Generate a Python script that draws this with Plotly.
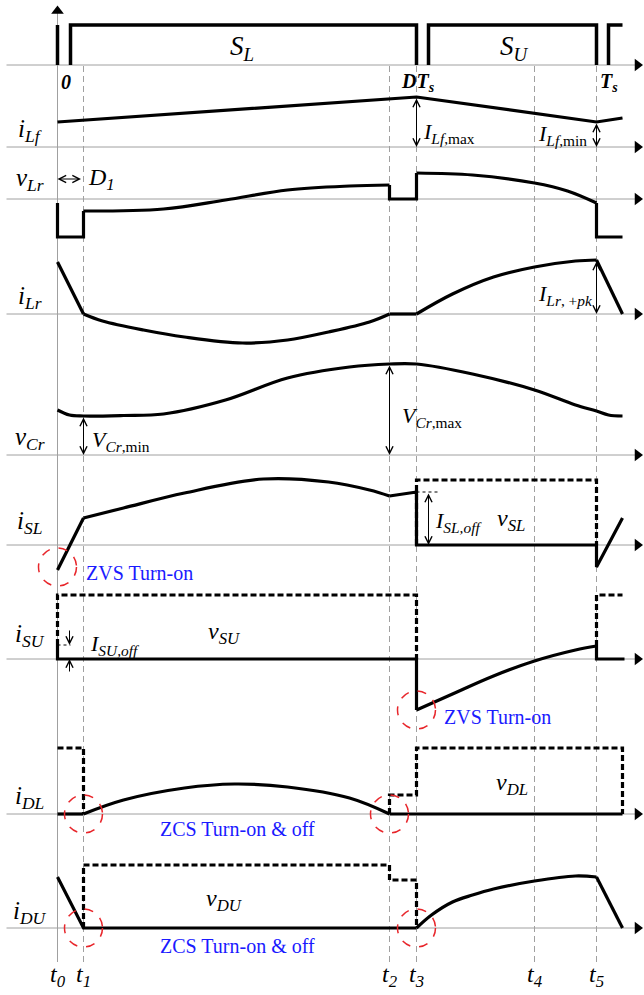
import plotly.graph_objects as go

FONT = "Liberation Serif"

# switching instants t0..t5 (diagram time units, t0 = 0)
t_inst = [0, 26, 332, 359, 477, 539]
t_names = ["<i>t</i><sub><i>0</i></sub>", "<i>t</i><sub><i>1</i></sub>", "<i>t</i><sub><i>2</i></sub>",
           "<i>t</i><sub><i>3</i></sub>", "<i>t</i><sub><i>4</i></sub>", "<i>t</i><sub><i>5</i></sub>"]
t_end = 565
t_left = -51
t_arrow = 580

# baseline of each row (diagram units, bottom = 0)
row_names = ["", "<i>i</i><sub><i>Lf</i></sub>", "<i>v</i><sub><i>Lr</i></sub>", "<i>i</i><sub><i>Lr</i></sub>",
             "<i>v</i><sub><i>Cr</i></sub>", "<i>i</i><sub><i>SL</i></sub>", "<i>i</i><sub><i>SU</i></sub>",
             "<i>i</i><sub><i>DL</i></sub>", "<i>i</i><sub><i>DU</i></sub>"]
row_base = [930, 848, 796, 681, 540, 450, 336, 181, 67]
row_label_dy = [0, 17, 20, 17, 17, 23, 24, 17, 16]

# gate signals S_L / S_U
gate_t = [0, 0, None, 13, 13, 359, 359, None, 371, 371, 539, 539, None, 551, 551, 565]
gate_v = [40, 0, None, 0, 40, 40, 0, None, 0, 40, 40, 0, None, 0, 40, 40]

# filter inductor current
ilf_t = [0, 359, 539, 565]
ilf_v = [25, 50, 25, 29]

# resonant inductor voltage
vlr_a_t = [0, 0, 26, 26]
vlr_a_v = [-4, -38, -38, -12]
vlr_b_t = [26, 106, 168, 230, 292, 332]
vlr_b_v = [-12, -10, -1, 9, 13, 14]
vlr_c_t = [332, 332, 359, 359]
vlr_c_v = [14, 0, 0, 26]
vlr_d_t = [359, 415, 477, 510, 539]
vlr_d_v = [26, 24, 16, 8, -4]
vlr_e_t = [539, 539, 565]
vlr_e_v = [-4, -38, -38]

# resonant inductor current
ilr_a_t = [0, 26]
ilr_a_v = [52, 0]
ilr_b_t = [26, 45, 86, 127, 185, 230, 271, 312, 332]
ilr_b_v = [0, -7, -16, -23, -29, -26, -18, -8, 0]
ilr_c_t = [332, 359]
ilr_c_v = [0, 0]
ilr_d_t = [359, 395, 436, 477, 518, 539]
ilr_d_v = [0, 20, 37, 47, 53, 54]
ilr_e_t = [539, 565]
ilr_e_v = [54, 0]

# resonant capacitor voltage
vcr_t = [0, 12, 26, 66, 106, 168, 230, 292, 332, 359, 415, 477, 518, 539, 551, 565]
vcr_v = [45, 40, 39, 39.5, 41, 55, 77, 88, 91, 91, 81, 65, 50, 44, 40, 39]

# lower switch current / voltage
isl_a_t = [0, 26]
isl_a_v = [-25, 27]
isl_b_t = [26, 66, 127, 206, 271, 312, 332]
isl_b_v = [27, 37, 52, 66, 63, 55, 49]
isl_c_t = [332, 359, 359, 539, 539, 565]
isl_c_v = [49, 53, 0, 0, -22, 27]
vsl_t = [359, 359, 539, 539]
vsl_v = [0, 65, 65, 0]

# upper switch current / voltage
isu_a_t = [0, 0, 359, 359]
isu_a_v = [14, 0, 0, -51]
isu_b_t = [359, 395, 436, 477, 518, 539]
isu_b_v = [-51, -35, -17, -2, 9, 13]
isu_c_t = [539, 539, 567]
isu_c_v = [13, 0, 0]
vsu_t = [0, 0, 359, 359, None, 539, 539, 565]
vsu_v = [14, 64, 64, 0, None, 13, 64, 64]

# lower diode current / voltage
idl_a_t = [0, 26]
idl_a_v = [0, 0]
idl_b_t = [26, 66, 127, 177, 230, 292, 332]
idl_b_v = [0, 14, 26, 30, 27, 16, 0]
idl_c_t = [332, 565]
idl_c_v = [0, 0]
vdl_t = [0, 26, 26, None, 332, 332, 359, 359, 565, 565]
vdl_v = [66, 66, 0, None, 0, 19, 19, 66, 66, 0]

# upper diode current / voltage
idu_a_t = [0, 26, 359]
idu_a_v = [51, 0, 0]
idu_b_t = [359, 374, 395, 415, 436, 477, 518, 539]
idu_b_v = [0, 13, 26, 33, 39, 47, 52, 51]
idu_c_t = [539, 565]
idu_c_v = [51, 0]
vdu_t = [26, 26, 332, 332, 359, 359]
vdu_v = [0, 63, 63, 48, 48, 0]

fig = go.Figure()
GRAY = "#a0a0a0"
BLUE = "#1a1aff"
RED = "#e8262b"


def wave(t, v, row, dash=None, width=3.2, shape="linear", color="black"):
    b = row_base[row]
    y = [None if a is None else b + a for a in v]
    fig.add_trace(go.Scatter(x=t, y=y, mode="lines", hoverinfo="skip",
                             line=dict(color=color, width=width, dash=dash, shape=shape)))


def text(x, y, s, size=24, anchor="center", color="black"):
    fig.add_annotation(x=x, y=y, text=s, showarrow=False, xanchor=anchor,
                       font=dict(family=FONT, size=size, color=color))


def arrow(x, y, ax, ay, both=True):
    fig.add_annotation(x=x, y=y, ax=ax, ay=ay, axref="x", ayref="y", text="",
                       showarrow=True, arrowhead=5, arrowsize=1.4, arrowwidth=1,
                       arrowside="end+start" if both else "end", arrowcolor="black")


def circle(x, y, r=19):
    fig.add_shape(type="circle", x0=x - r, x1=x + r, y0=y - r, y1=y + r,
                  line=dict(color=RED, width=1.5, dash="dash"))


# time axes of each row
for b in row_base:
    fig.add_trace(go.Scatter(x=[t_left, t_arrow], y=[b, b], mode="lines", hoverinfo="skip",
                             line=dict(color=GRAY, width=1)))
fig.add_trace(go.Scatter(x=[t_arrow] * len(row_base), y=row_base, mode="markers", hoverinfo="skip",
                         marker=dict(symbol="triangle-right", size=11, color="black")))
# vertical axis at t0 and dashed instants
fig.add_trace(go.Scatter(x=[0, 0], y=[33, 984], mode="lines", hoverinfo="skip",
                         line=dict(color=GRAY, width=1)))
fig.add_trace(go.Scatter(x=[0], y=[984], mode="markers", hoverinfo="skip",
                         marker=dict(symbol="triangle-up", size=11, color="black")))
for t in t_inst[1:]:
    fig.add_trace(go.Scatter(x=[t, t], y=[33, row_base[0]], mode="lines", hoverinfo="skip",
                             line=dict(color=GRAY, width=1, dash="6px,4px")))

# waveforms
wave(gate_t, gate_v, 0, width=3.5)
wave(ilf_t, ilf_v, 1)
wave(vlr_a_t, vlr_a_v, 2)
wave(vlr_b_t, vlr_b_v, 2, shape="spline")
wave(vlr_c_t, vlr_c_v, 2)
wave(vlr_d_t, vlr_d_v, 2, shape="spline")
wave(vlr_e_t, vlr_e_v, 2)
wave(ilr_a_t, ilr_a_v, 3)
wave(ilr_b_t, ilr_b_v, 3, shape="spline")
wave(ilr_c_t, ilr_c_v, 3)
wave(ilr_d_t, ilr_d_v, 3, shape="spline")
wave(ilr_e_t, ilr_e_v, 3)
wave(vcr_t, vcr_v, 4, shape="spline")
wave(vsl_t, vsl_v, 5, dash="6px,3px")
wave(isl_a_t, isl_a_v, 5)
wave(isl_b_t, isl_b_v, 5, shape="spline")
wave(isl_c_t, isl_c_v, 5)
wave(vsu_t, vsu_v, 6, dash="6px,3px")
wave(isu_a_t, isu_a_v, 6)
wave(isu_b_t, isu_b_v, 6, shape="spline")
wave(isu_c_t, isu_c_v, 6)
wave(vdl_t, vdl_v, 7, dash="6px,3px")
wave(idl_a_t, idl_a_v, 7)
wave(idl_b_t, idl_b_v, 7, shape="spline")
wave(idl_c_t, idl_c_v, 7)
wave(vdu_t, vdu_v, 8, dash="6px,3px")
wave(idu_a_t, idu_a_v, 8)
wave(idu_b_t, idu_b_v, 8, shape="spline")
wave(idu_c_t, idu_c_v, 8)

# small dotted reference lines
wave([359, 380], [53, 53], 5, dash="dot", width=1)
wave([0, 13], [14, 14], 6, dash="dot", width=1)

# row labels
for name, b, dy in zip(row_names, row_base, row_label_dy):
    if name:
        text(-28, b + dy, name, 25)

# gate row labels
text(184.5, 947, "<i>S</i><sub><i>L</i></sub>", 27)
text(456.5, 947, "<i>S</i><sub><i>U</i></sub>", 27)
text(8.5, 913, "<b><i>0</i></b>", 20)
text(360.5, 913, "<b><i>DT</i><sub><i>s</i></sub></b>", 20)
text(551.5, 913, "<b><i>T</i><sub><i>s</i></sub></b>", 20)

# i_Lf
arrow(t_inst[3], row_base[1], t_inst[3], row_base[1] + 50)
text(363.5, 862, "<i>I</i><sub><i>Lf</i>,max</sub>", 22, "left")
arrow(t_inst[5], row_base[1], t_inst[5], row_base[1] + 25)
text(504.5, 860, "<i>I</i><sub><i>Lf</i>,min</sub>", 22)

# v_Lr
arrow(0, 816, 25, 816)
text(28.5, 816, "<i>D</i><sub><i>1</i></sub>", 24, "left")

# i_Lr
arrow(t_inst[5], row_base[3], t_inst[5], row_base[3] + 54)
text(507.5, 700, "<i>I</i><sub><i>Lr</i>, +<i>pk</i></sub>", 22)

# v_Cr
arrow(t_inst[1], row_base[4], t_inst[1], row_base[4] + 39)
text(32.5, 554, "<i>V</i><sub><i>Cr</i>,min</sub>", 22, "left")
arrow(t_inst[2], row_base[4], t_inst[2], row_base[4] + 91)
text(342.5, 578, "<i>V</i><sub><i>Cr</i>,max</sub>", 22, "left")

# i_SL
arrow(371, row_base[5], 371, row_base[5] + 53)
text(375.5, 473, "<i>I</i><sub><i>SL,off</i></sub>", 22, "left")
text(437.5, 475, "<i>v</i><sub><i>SL</i></sub>", 24, "left")
circle(0, row_base[5] - 22)
text(26.5, 422, "ZVS Turn-on", 20, "left", BLUE)

# i_SU
arrow(12, row_base[6] + 14, 12, row_base[6] + 30, both=False)
arrow(12, row_base[6], 12, row_base[6] - 14, both=False)
text(30.5, 350, "<i>I</i><sub><i>SU,off</i></sub>", 22, "left")
text(166.5, 362, "<i>v</i><sub><i>SU</i></sub>", 24)
circle(t_inst[3], row_base[6] - 51)
text(384.5, 278, "ZVS Turn-on", 20, "left", BLUE)

# i_DL
circle(t_inst[1], row_base[7])
circle(t_inst[2], row_base[7])
text(179.5, 166, "ZCS Turn-on &amp; off", 20, "center", BLUE)
text(436.5, 211, "<i>v</i><sub><i>DL</i></sub>", 24, "left")

# i_DU
circle(t_inst[1], row_base[8])
circle(t_inst[3], row_base[8])
text(179.5, 49, "ZCS Turn-on &amp; off", 20, "center", BLUE)
text(166.5, 95, "<i>v</i><sub><i>DU</i></sub>", 24)

# instants
for t, name in zip(t_inst, t_names):
    text(t, 19, name, 24)

fig.update_layout(
    width=644, height=995,
    margin=dict(l=0, r=0, t=0, b=0),
    paper_bgcolor="white", plot_bgcolor="white",
    showlegend=False,
    xaxis=dict(range=[-57.5, 586.5], visible=False, fixedrange=True),
    yaxis=dict(range=[0, 995], visible=False, fixedrange=True),
)

fig.write_html("out.html", config={"displayModeBar": False},
               post_script="document.body.style.margin='0';document.body.style.overflow='hidden';")
